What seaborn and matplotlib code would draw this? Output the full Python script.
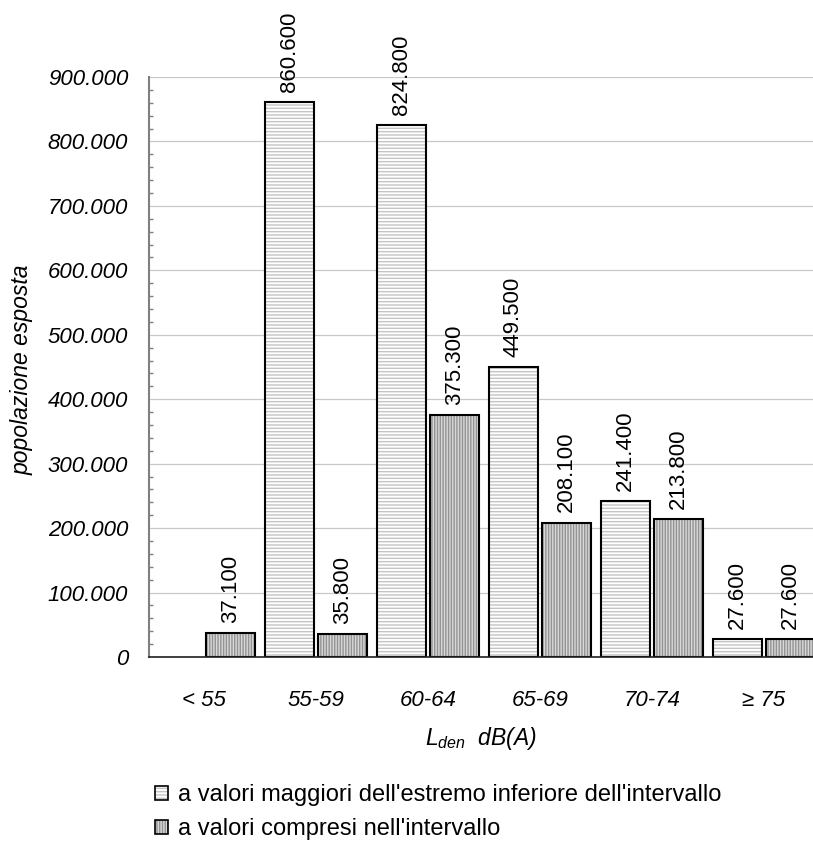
import pandas as pd
import matplotlib.pyplot as plt
import matplotlib as mpl
import seaborn as sns
from matplotlib.patches import Patch
from matplotlib.ticker import MultipleLocator, FuncFormatter

# dati: popolazione esposta per fascia di Lden
fasce = ["< 55", "55-59", "60-64", "65-69", "70-74", "≥ 75"]
serie = ["a valori maggiori dell'estremo inferiore dell'intervallo",
         "a valori compresi nell'intervallo"]
maggiori = [0, 860600, 824800, 449500, 241400, 27600]
compresi = [37100, 35800, 375300, 208100, 213800, 27600]

df = pd.DataFrame({
    "fascia": fasce * 2,
    "serie": [serie[0]] * len(fasce) + [serie[1]] * len(fasce),
    "pop": maggiori + compresi,
})

sns.set_theme(style="white")
plt.rcParams['font.family'] = ['Liberation Sans', 'DejaVu Sans']
plt.rcParams['text.color'] = 'black'
plt.rcParams['axes.labelcolor'] = 'black'
plt.rcParams['xtick.labelcolor'] = 'black'
plt.rcParams['ytick.labelcolor'] = 'black'
plt.rcParams['mathtext.fontset'] = 'custom'
plt.rcParams['mathtext.it'] = 'Liberation Sans:italic'
plt.rcParams['mathtext.rm'] = 'Liberation Sans'
plt.rcParams['hatch.linewidth'] = 1.0

fmt_it = lambda v: f"{v:,.0f}".replace(",", ".")

fig = plt.figure(figsize=(8.13, 8.43), dpi=100)
ax = fig.add_axes([149 / 813, 1 - 657 / 843, 1 - 149 / 813, (657 - 77) / 843])

sns.barplot(data=df, x="fascia", y="pop", hue="serie", order=fasce,
            hue_order=serie, width=0.95, gap=0.08, legend=False, ax=ax,
            edgecolor="black", linewidth=1.5, saturation=1)

stili = [
    dict(face="white", hatch="-----", hcol="#c4c4c4"),
    dict(face="#d8d8d8", hatch="||||||", hcol="#939393"),
]
for cont, st, vals in zip(ax.containers, stili, [maggiori, compresi]):
    for bar, v in zip(cont, vals):
        bar.set_facecolor(st["face"])
        bar.set_edgecolor("black")
        bar.set_hatch(st["hatch"])
        bar._hatch_color = mpl.colors.to_rgba(st["hcol"])
        if v == 0:
            bar.set_visible(False)
    labels = [fmt_it(v) if v > 0 else "" for v in vals]
    ax.bar_label(cont, labels=labels, rotation=90, padding=7.5,
                 fontsize=16, clip_on=False)

ax.set_xlim(-0.49, 5.44)
ax.set_ylim(0, 900000)
ax.yaxis.set_major_locator(MultipleLocator(100000))
ax.yaxis.set_minor_locator(MultipleLocator(20000))
ax.yaxis.set_major_formatter(FuncFormatter(lambda v, p: fmt_it(v)))
ax.tick_params(axis="y", which="major", direction="out", length=5,
               width=1, color="#808080", pad=10, labelsize=16)
ax.tick_params(axis="y", which="minor", direction="in", length=3,
               width=1, color="#808080", left=True)
ax.tick_params(axis="x", length=0, pad=24, labelsize=16)
for lab in ax.get_yticklabels() + ax.get_xticklabels():
    lab.set_fontstyle("italic")

ax.grid(True, axis="y", which="major", color="#c8c8c8", linewidth=0.9)
ax.set_axisbelow(True)
for s in ["top", "right"]:
    ax.spines[s].set_visible(False)
ax.spines["left"].set_color("#808080")
ax.spines["left"].set_linewidth(1.5)
ax.spines["bottom"].set_color("#202020")
ax.spines["bottom"].set_linewidth(1.2)

ax.set_ylabel("popolazione esposta", fontsize=16.5, fontstyle="italic")
ax.yaxis.set_label_coords(-0.174, 0.495)
ax.set_xlabel(r"$\mathit{L}_{\mathit{den}}$  dB(A)", fontsize=16.5,
              fontstyle="italic", labelpad=10)

handles = [Patch(facecolor=st["face"], edgecolor="black", hatch=st["hatch"],
                 linewidth=1.2) for st in stili]
leg = fig.legend(handles, serie, loc="upper left",
                 bbox_to_anchor=(134 / 813, 1 - 763 / 843), frameon=False,
                 fontsize=17, handlelength=0.55, handleheight=0.55,
                 handletextpad=0.4, labelspacing=0.5)
for h, st in zip(leg.legend_handles, stili):
    h._hatch_color = mpl.colors.to_rgba(st["hcol"])

fig.savefig("out.png", dpi=100)
